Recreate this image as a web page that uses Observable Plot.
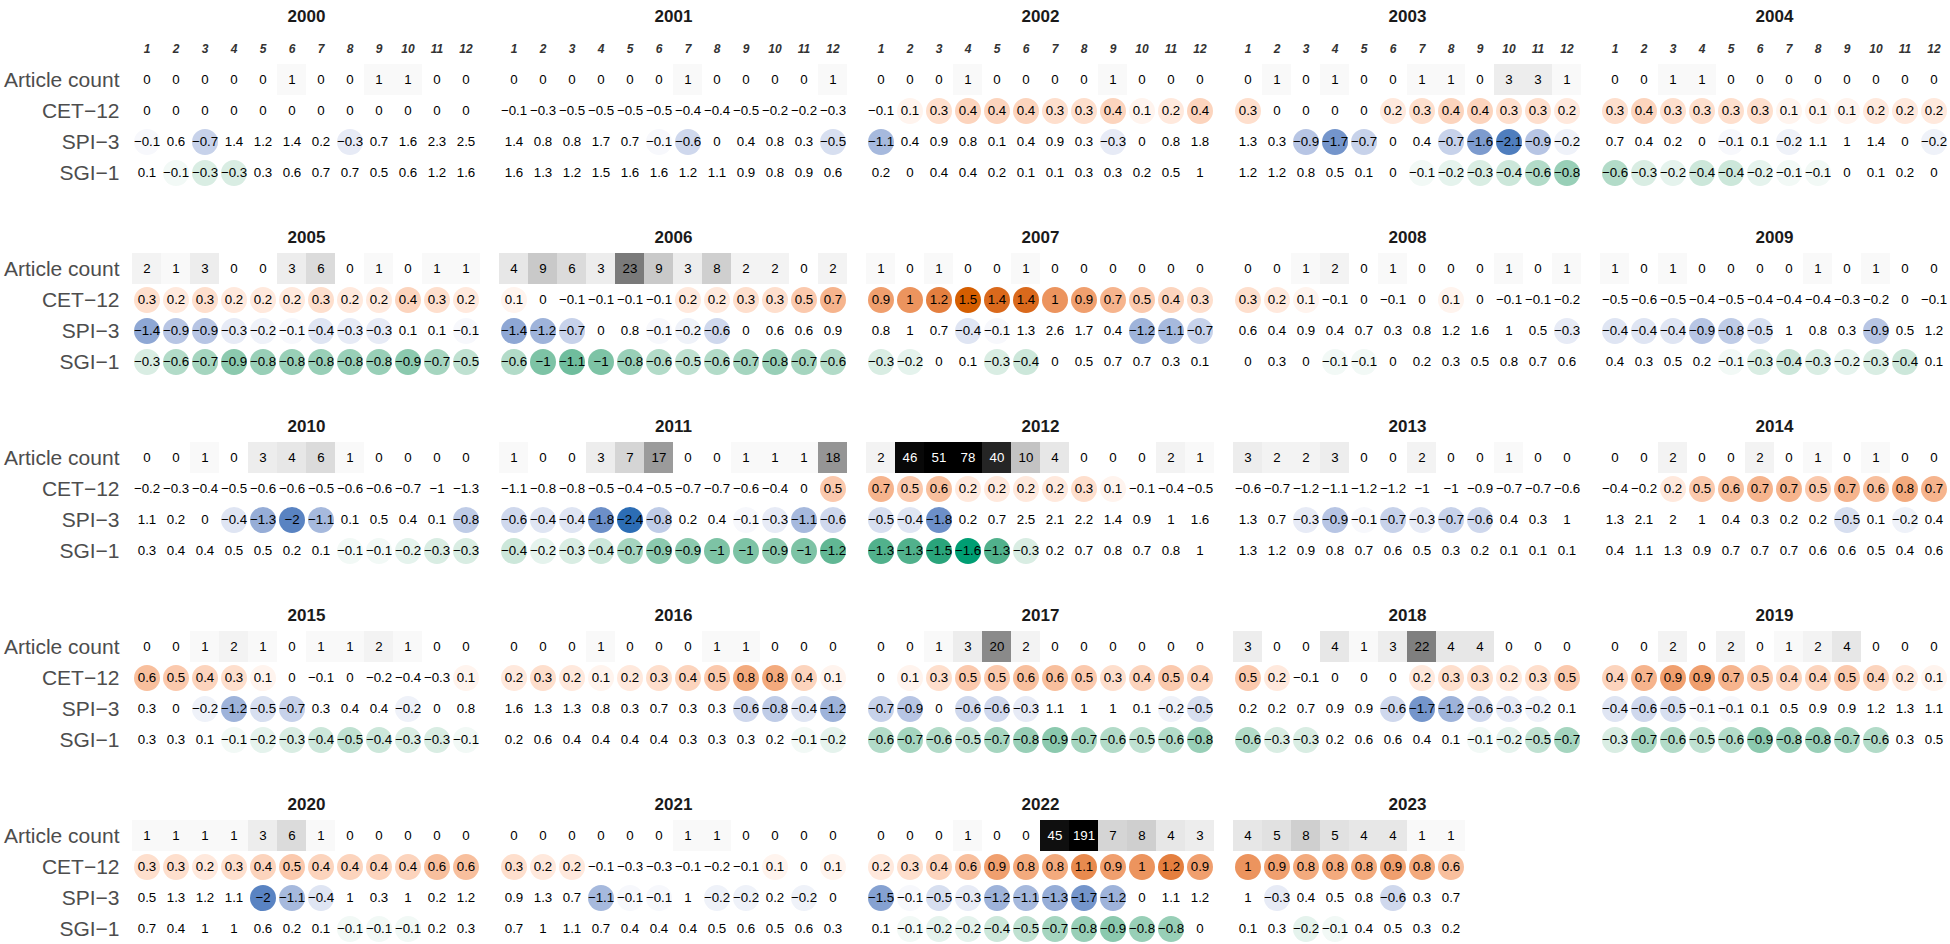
<!DOCTYPE html>
<html><head><meta charset="utf-8">
<script src="https://cdn.jsdelivr.net/npm/d3@7"></script>
<script src="https://cdn.jsdelivr.net/npm/@observablehq/plot@0.6"></script>
<style>html,body{margin:0;padding:0;background:#fff;} #chart svg{display:block}</style>
</head><body><div id="chart"></div>
<script>
const years = [2000,2001,2002,2003,2004,2005,2006,2007,2008,2009,2010,2011,2012,2013,2014,2015,2016,2017,2018,2019,2020,2021,2022,2023];
const months = [1,2,3,4,5,6,7,8,9,10,11,12];
const rowLabels = ["Article count","CET\u221212","SPI\u22123","SGI\u22121"];

const articleCount = [
  [0,0,0,0,0,1,0,0,1,1,0,0],
  [0,0,0,0,0,0,1,0,0,0,0,1],
  [0,0,0,1,0,0,0,0,1,0,0,0],
  [0,1,0,1,0,0,1,1,0,3,3,1],
  [0,0,1,1,0,0,0,0,0,0,0,0],
  [2,1,3,0,0,3,6,0,1,0,1,1],
  [4,9,6,3,23,9,3,8,2,2,0,2],
  [1,0,1,0,0,1,0,0,0,0,0,0],
  [0,0,1,2,0,1,0,0,0,1,0,1],
  [1,0,1,0,0,0,0,1,0,1,0,0],
  [0,0,1,0,3,4,6,1,0,0,0,0],
  [1,0,0,3,7,17,0,0,1,1,1,18],
  [2,46,51,78,40,10,4,0,0,0,2,1],
  [3,2,2,3,0,0,2,0,0,1,0,0],
  [0,0,2,0,0,2,0,1,0,1,0,0],
  [0,0,1,2,1,0,1,1,2,1,0,0],
  [0,0,0,1,0,0,0,1,1,0,0,0],
  [0,0,1,3,20,2,0,0,0,0,0,0],
  [3,0,0,4,1,3,22,4,4,0,0,0],
  [0,0,2,0,2,0,1,2,4,0,0,0],
  [1,1,1,1,3,6,1,0,0,0,0,0],
  [0,0,0,0,0,0,1,1,0,0,0,0],
  [0,0,0,1,0,0,45,191,7,8,4,3],
  [4,5,8,5,4,4,1,1]
];

const cet12 = [
  [0,0,0,0,0,0,0,0,0,0,0,0],
  [-0.1,-0.3,-0.5,-0.5,-0.5,-0.5,-0.4,-0.4,-0.5,-0.2,-0.2,-0.3],
  [-0.1,0.1,0.3,0.4,0.4,0.4,0.3,0.3,0.4,0.1,0.2,0.4],
  [0.3,0,0,0,0,0.2,0.3,0.4,0.4,0.3,0.3,0.2],
  [0.3,0.4,0.3,0.3,0.3,0.3,0.1,0.1,0.1,0.2,0.2,0.2],
  [0.3,0.2,0.3,0.2,0.2,0.2,0.3,0.2,0.2,0.4,0.3,0.2],
  [0.1,0,-0.1,-0.1,-0.1,-0.1,0.2,0.2,0.3,0.3,0.5,0.7],
  [0.9,1,1.2,1.5,1.4,1.4,1,0.9,0.7,0.5,0.4,0.3],
  [0.3,0.2,0.1,-0.1,0,-0.1,0,0.1,0,-0.1,-0.1,-0.2],
  [-0.5,-0.6,-0.5,-0.4,-0.5,-0.4,-0.4,-0.4,-0.3,-0.2,0,-0.1],
  [-0.2,-0.3,-0.4,-0.5,-0.6,-0.6,-0.5,-0.6,-0.6,-0.7,-1,-1.3],
  [-1.1,-0.8,-0.8,-0.5,-0.4,-0.5,-0.7,-0.7,-0.6,-0.4,0,0.5],
  [0.7,0.5,0.6,0.2,0.2,0.2,0.2,0.3,0.1,-0.1,-0.4,-0.5],
  [-0.6,-0.7,-1.2,-1.1,-1.2,-1.2,-1,-1,-0.9,-0.7,-0.7,-0.6],
  [-0.4,-0.2,0.2,0.5,0.6,0.7,0.7,0.5,0.7,0.6,0.8,0.7],
  [0.6,0.5,0.4,0.3,0.1,0,-0.1,0,-0.2,-0.4,-0.3,0.1],
  [0.2,0.3,0.2,0.1,0.2,0.3,0.4,0.5,0.8,0.8,0.4,0.1],
  [0,0.1,0.3,0.5,0.5,0.6,0.6,0.5,0.3,0.4,0.5,0.4],
  [0.5,0.2,-0.1,0,0,0,0.2,0.3,0.3,0.2,0.3,0.5],
  [0.4,0.7,0.9,0.9,0.7,0.5,0.4,0.4,0.5,0.4,0.2,0.1],
  [0.3,0.3,0.2,0.3,0.4,0.5,0.4,0.4,0.4,0.4,0.6,0.6],
  [0.3,0.2,0.2,-0.1,-0.3,-0.3,-0.1,-0.2,-0.1,0.1,0,0.1],
  [0.2,0.3,0.4,0.6,0.9,0.8,0.8,1.1,0.9,1,1.2,0.9],
  [1,0.9,0.8,0.8,0.8,0.9,0.8,0.6]
];

const spi3 = [
  [-0.1,0.6,-0.7,1.4,1.2,1.4,0.2,-0.3,0.7,1.6,2.3,2.5],
  [1.4,0.8,0.8,1.7,0.7,-0.1,-0.6,0,0.4,0.8,0.3,-0.5],
  [-1.1,0.4,0.9,0.8,0.1,0.4,0.9,0.3,-0.3,0,0.8,1.8],
  [1.3,0.3,-0.9,-1.7,-0.7,0,0.4,-0.7,-1.6,-2.1,-0.9,-0.2],
  [0.7,0.4,0.2,0,-0.1,0.1,-0.2,1.1,1,1.4,0,-0.2],
  [-1.4,-0.9,-0.9,-0.3,-0.2,-0.1,-0.4,-0.3,-0.3,0.1,0.1,-0.1],
  [-1.4,-1.2,-0.7,0,0.8,-0.1,-0.2,-0.6,0,0.6,0.6,0.9],
  [0.8,1,0.7,-0.4,-0.1,1.3,2.6,1.7,0.4,-1.2,-1.1,-0.7],
  [0.6,0.4,0.9,0.4,0.7,0.3,0.8,1.2,1.6,1,0.5,-0.3],
  [-0.4,-0.4,-0.4,-0.9,-0.8,-0.5,1,0.8,0.3,-0.9,0.5,1.2],
  [1.1,0.2,0,-0.4,-1.3,-2,-1.1,0.1,0.5,0.4,0.1,-0.8],
  [-0.6,-0.4,-0.4,-1.8,-2.4,-0.8,0.2,0.4,-0.1,-0.3,-1.1,-0.6],
  [-0.5,-0.4,-1.8,0.2,0.7,2.5,2.1,2.2,1.4,0.9,1,1.6],
  [1.3,0.7,-0.3,-0.9,-0.1,-0.7,-0.3,-0.7,-0.6,0.4,0.3,1],
  [1.3,2.1,2,1,0.4,0.3,0.2,0.2,-0.5,0.1,-0.2,0.4],
  [0.3,0,-0.2,-1.2,-0.5,-0.7,0.3,0.4,0.4,-0.2,0,0.8],
  [1.6,1.3,1.3,0.8,0.3,0.7,0.3,0.3,-0.6,-0.8,-0.4,-1.2],
  [-0.7,-0.9,0,-0.6,-0.6,-0.3,1.1,1,1,0.1,-0.2,-0.5],
  [0.2,0.2,0.7,0.9,0.9,-0.6,-1.7,-1.2,-0.6,-0.3,-0.2,0.1],
  [-0.4,-0.6,-0.5,-0.1,-0.1,0.1,0.5,0.9,0.9,1.2,1.3,1.1],
  [0.5,1.3,1.2,1.1,-2,-1.1,-0.4,1,0.3,1,0.2,1.2],
  [0.9,1.3,0.7,-1.1,-0.1,-0.1,1,-0.2,-0.2,0.2,-0.2,0],
  [-1.5,-0.1,-0.5,-0.3,-1.2,-1.1,-1.3,-1.7,-1.2,0,1.1,1.2],
  [1,-0.3,0.4,0.5,0.8,-0.6,0.3,0.7]
];

const sgi1 = [
  [0.1,-0.1,-0.3,-0.3,0.3,0.6,0.7,0.7,0.5,0.6,1.2,1.6],
  [1.6,1.3,1.2,1.5,1.6,1.6,1.2,1.1,0.9,0.8,0.9,0.6],
  [0.2,0,0.4,0.4,0.2,0.1,0.1,0.3,0.3,0.2,0.5,1],
  [1.2,1.2,0.8,0.5,0.1,0,-0.1,-0.2,-0.3,-0.4,-0.6,-0.8],
  [-0.6,-0.3,-0.2,-0.4,-0.4,-0.2,-0.1,-0.1,0,0.1,0.2,0],
  [-0.3,-0.6,-0.7,-0.9,-0.8,-0.8,-0.8,-0.8,-0.8,-0.9,-0.7,-0.5],
  [-0.6,-1,-1.1,-1,-0.8,-0.6,-0.5,-0.6,-0.7,-0.8,-0.7,-0.6],
  [-0.3,-0.2,0,0.1,-0.3,-0.4,0,0.5,0.7,0.7,0.3,0.1],
  [0,0.3,0,-0.1,-0.1,0,0.2,0.3,0.5,0.8,0.7,0.6],
  [0.4,0.3,0.5,0.2,-0.1,-0.3,-0.4,-0.3,-0.2,-0.3,-0.4,0.1],
  [0.3,0.4,0.4,0.5,0.5,0.2,0.1,-0.1,-0.1,-0.2,-0.3,-0.3],
  [-0.4,-0.2,-0.3,-0.4,-0.7,-0.9,-0.9,-1,-1,-0.9,-1,-1.2],
  [-1.3,-1.3,-1.5,-1.6,-1.3,-0.3,0.2,0.7,0.8,0.7,0.8,1],
  [1.3,1.2,0.9,0.8,0.7,0.6,0.5,0.3,0.2,0.1,0.1,0.1],
  [0.4,1.1,1.3,0.9,0.7,0.7,0.7,0.6,0.6,0.5,0.4,0.6],
  [0.3,0.3,0.1,-0.1,-0.2,-0.3,-0.4,-0.5,-0.4,-0.3,-0.3,-0.1],
  [0.2,0.6,0.4,0.4,0.4,0.4,0.3,0.3,0.3,0.2,-0.1,-0.2],
  [-0.6,-0.7,-0.6,-0.5,-0.7,-0.8,-0.9,-0.7,-0.6,-0.5,-0.6,-0.8],
  [-0.6,-0.3,-0.3,0.2,0.6,0.6,0.4,0.1,-0.1,-0.2,-0.5,-0.7],
  [-0.3,-0.7,-0.6,-0.5,-0.6,-0.9,-0.8,-0.8,-0.7,-0.6,0.3,0.5],
  [0.7,0.4,1,1,0.6,0.2,0.1,-0.1,-0.1,-0.1,0.2,0.3],
  [0.7,1,1.1,0.7,0.4,0.4,0.4,0.5,0.6,0.5,0.6,0.3],
  [0.1,-0.1,-0.2,-0.2,-0.4,-0.5,-0.7,-0.8,-0.9,-0.8,-0.8,0],
  [0.1,0.3,-0.2,-0.1,0.4,0.5,0.3,0.2]
];

// colour ramps (white -> colour, interpolated in Lab)
const ramp = (d, c) => d3.scaleLinear().domain(d).range(["#ffffff", c]).interpolate(d3.interpolateLab).clamp(true);
const greyScale = ramp([0, 47], "#000000");
const cetScale = ramp([0, 1.5], "#D55E00");
const spiScale = ramp([0, -2.4], "#2C6DB5");
const sgiScale = ramp([0, -1.6], "#009E73");

const nCols = 5;
const fmt = v => (v < 0 ? "\u2212" : "") + String(Math.abs(v));

const tiles = [], dots = [], labels = [], heads = [], titles = [];
years.forEach((year, i) => {
  const fx = i % nCols, fy = Math.floor(i / nCols);
  titles.push({fx, fy, year: String(year)});
  articleCount[i].forEach((v, j) => {
    tiles.push({fx, fy, month: j + 1, row: rowLabels[0], fill: greyScale(v)});
    labels.push({fx, fy, month: j + 1, row: rowLabels[0], text: String(v), fill: v > 30 ? "#ffffff" : "#000000"});
  });
  const series = [[cet12, 1, v => v > 0, cetScale], [spi3, 2, v => v < 0, spiScale], [sgi1, 3, v => v < 0, sgiScale]];
  for (const [arr, r, show, sc] of series) {
    arr[i].forEach((v, j) => {
      if (show(v)) dots.push({fx, fy, month: j + 1, row: rowLabels[r], fill: sc(v)});
      labels.push({fx, fy, month: j + 1, row: rowLabels[r], text: fmt(v), fill: "#000000"});
    });
  }
});
for (let c = 0; c < nCols; c++) months.forEach(m => heads.push({fx: c, fy: 0, month: m}));

const narrow = "'Liberation Sans Narrow','Arial Narrow','Liberation Sans',Arial,sans-serif";

const plot = Plot.plot({
  width: 1950,
  height: 944,
  marginLeft: 129,
  marginRight: 0,
  marginTop: 63,
  marginBottom: 0,
  style: {fontFamily: "'Liberation Sans', Arial, sans-serif", background: "#ffffff"},
  fx: {domain: d3.range(5), paddingInner: 15.25 / 367.25, paddingOuter: 0, axis: null},
  fy: {domain: d3.range(5), paddingInner: 0.3448, paddingOuter: 0, axis: null},
  x: {domain: months, padding: 0, axis: null},
  y: {domain: rowLabels, padding: 0, axis: null},
  color: {type: "identity"},
  marks: [
    Plot.cell(tiles, {x: "month", y: "row", fx: "fx", fy: "fy", fill: "fill", inset: 0}),
    Plot.dot(dots, {x: "month", y: "row", fx: "fx", fy: "fy", r: 13, fill: "fill"}),
    Plot.text(labels, {x: "month", y: "row", fx: "fx", fy: "fy", text: "text", fill: "fill", fontSize: 13.3}),
    Plot.text(heads, {x: "month", fx: "fx", fy: "fy", text: d => String(d.month), frameAnchor: "top", dy: -20,
      fontWeight: "bold", fontStyle: "italic", fontSize: 12, fill: "#333333", fontFamily: narrow}),
    Plot.text(titles.filter(d => d.fy === 0), {fx: "fx", fy: "fy", text: "year", frameAnchor: "top", dy: -55,
      fontWeight: "bold", fontSize: 17, fill: "#1a1a1a", fontFamily: narrow}),
    Plot.text(titles.filter(d => d.fy > 0), {fx: "fx", fy: "fy", text: "year", frameAnchor: "top", dy: -22.5,
      fontWeight: "bold", fontSize: 17, fill: "#1a1a1a", fontFamily: narrow}),
    Plot.axisY({anchor: "left", facetAnchor: "left", tickSize: 0, tickPadding: 11, fontSize: 21, color: "#4d4d4d", label: null})
  ]
});
document.getElementById("chart").appendChild(plot);
</script>
</body></html>
